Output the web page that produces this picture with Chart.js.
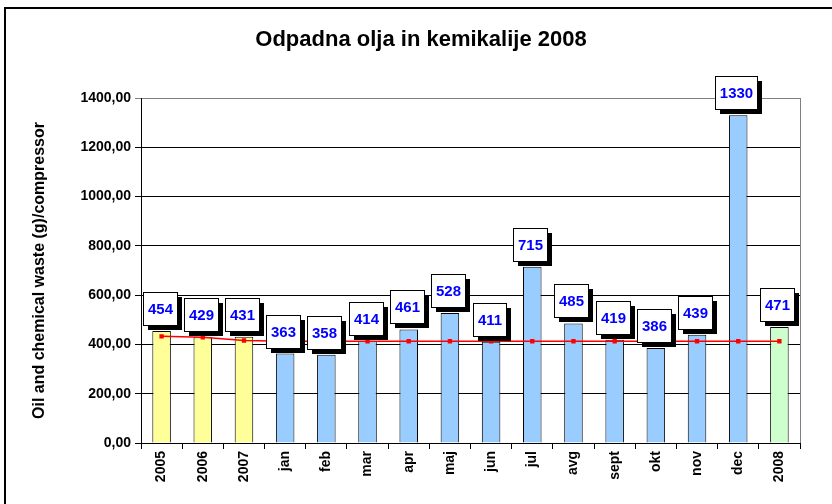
<!DOCTYPE html>
<html>
<head>
<meta charset="utf-8">
<script src="https://cdn.jsdelivr.net/npm/chart.js@4/dist/chart.umd.min.js"></script>
<style>
  html, body { margin: 0; padding: 0; background: #fff; }
  #wrap { width: 832px; height: 504px; }
</style>
</head>
<body>
<div id="wrap"><canvas id="chart" width="832" height="504"></canvas></div>
<script>
const categories = ['2005', '2006', '2007', 'jan', 'feb', 'mar', 'apr', 'maj', 'jun', 'jul', 'avg', 'sept', 'okt', 'nov', 'dec', '2008'];
const wasteValues = [454, 429, 431, 363, 358, 414, 461, 528, 411, 715, 485, 419, 386, 439, 1330, 471];
const trendValues = [433, 429, 416, 413, 413, 413, 413, 413, 413, 413, 413, 413, 413, 413, 413, 413];
const barColors = ['#ffff99', '#ffff99', '#ffff99',
    '#99ccff', '#99ccff', '#99ccff', '#99ccff', '#99ccff', '#99ccff',
    '#99ccff', '#99ccff', '#99ccff', '#99ccff', '#99ccff', '#99ccff',
    '#ccffcc'];
const chartTitle = 'Odpadna olja in kemikalije 2008';

const FONT = '"Liberation Sans", Arial, sans-serif';

// frame, title, plot border and the boxed value labels
const labelBoxes = {
    id: 'labelBoxes',
    beforeDraw(chart) {
        const ctx = chart.ctx;
        ctx.save();
        ctx.strokeStyle = '#000';
        ctx.lineWidth = 2;
        ctx.strokeRect(5, 8, 850, 520);
        ctx.fillStyle = '#000';
        ctx.font = 'bold 22px ' + FONT;
        ctx.textAlign = 'center';
        ctx.textBaseline = 'middle';
        ctx.fillText(chartTitle, 421, 40);
        ctx.restore();
    },
    afterDatasetsDraw(chart) {
        const ctx = chart.ctx;
        const area = chart.chartArea;
        ctx.save();
        ctx.strokeStyle = '#808080';
        ctx.lineWidth = 1;
        ctx.beginPath();
        ctx.moveTo(Math.round(area.right) + 0.5, area.top);
        ctx.lineTo(Math.round(area.right) + 0.5, area.bottom);
        ctx.stroke();

        const meta = chart.getDatasetMeta(0);
        ctx.font = 'bold 15px ' + FONT;
        ctx.textAlign = 'center';
        ctx.textBaseline = 'middle';
        meta.data.forEach((bar, i) => {
            const txt = String(wasteValues[i]);
            const w = Math.round(ctx.measureText(txt).width) + 9;
            const h = 33;
            const x = Math.round(bar.x - w / 2) - 2;
            const y = Math.round(bar.y) - 6 - h;
            ctx.fillStyle = '#000';
            ctx.fillRect(x + 5, y + 5, w, h);
            ctx.fillStyle = '#fff';
            ctx.fillRect(x, y, w, h);
            ctx.strokeStyle = '#000';
            ctx.lineWidth = 1;
            ctx.strokeRect(x + 0.5, y + 0.5, w, h);
            ctx.fillStyle = '#0000ff';
            ctx.fillText(txt, x + w / 2 + 0.5, y + h / 2 + 1);
        });
        ctx.restore();
    }
};

new Chart(document.getElementById('chart').getContext('2d'), {
    data: {
        labels: categories,
        datasets: [{
            type: 'bar',
            data: wasteValues,
            backgroundColor: barColors,
            borderColor: '#000',
            borderWidth: 1,
            barPercentage: 0.45,
            categoryPercentage: 1,
            order: 2
        }, {
            type: 'line',
            data: trendValues,
            borderColor: '#ff0000',
            borderWidth: 1.5,
            pointStyle: 'rect',
            pointRadius: 2,
            pointBackgroundColor: '#ff0000',
            pointBorderColor: '#ff0000',
            tension: 0,
            order: 1
        }]
    },
    options: {
        responsive: false,
        animation: false,
        layout: { padding: { left: 12, top: 98, right: 32, bottom: 8 } },
        plugins: {
            legend: { display: false },
            tooltip: { enabled: false },
            title: { display: false }
        },
        scales: {
            x: {
                grid: { offset: true, drawOnChartArea: false, tickLength: 6, color: '#000' },
                border: { color: '#000', width: 1 },
                ticks: {
                    color: '#000',
                    font: { family: FONT, size: 14, weight: 'bold' },
                    minRotation: 90,
                    maxRotation: 90,
                    padding: 2
                },
                afterFit(scale) { scale.height = 53; }
            },
            y: {
                min: 0,
                max: 1400,
                ticks: {
                    stepSize: 200,
                    color: '#000',
                    font: { family: FONT, size: 14, weight: 'bold' },
                    padding: 4,
                    callback: v => v.toFixed(2).replace('.', ',')
                },
                grid: {
                    tickLength: 6,
                    color: ctx => ctx.tick && ctx.tick.value === 1400 ? '#808080' : '#000'
                },
                border: { color: '#000', width: 1 },
                title: {
                    display: true,
                    text: 'Oil and chemical waste (g)/compressor',
                    color: '#000',
                    font: { family: FONT, size: 16, weight: 'bold' },
                    padding: { top: 18, bottom: 0 }
                },
                afterFit(scale) { scale.width = 129; }
            }
        }
    },
    plugins: [labelBoxes]
});
</script>
</body>
</html>
